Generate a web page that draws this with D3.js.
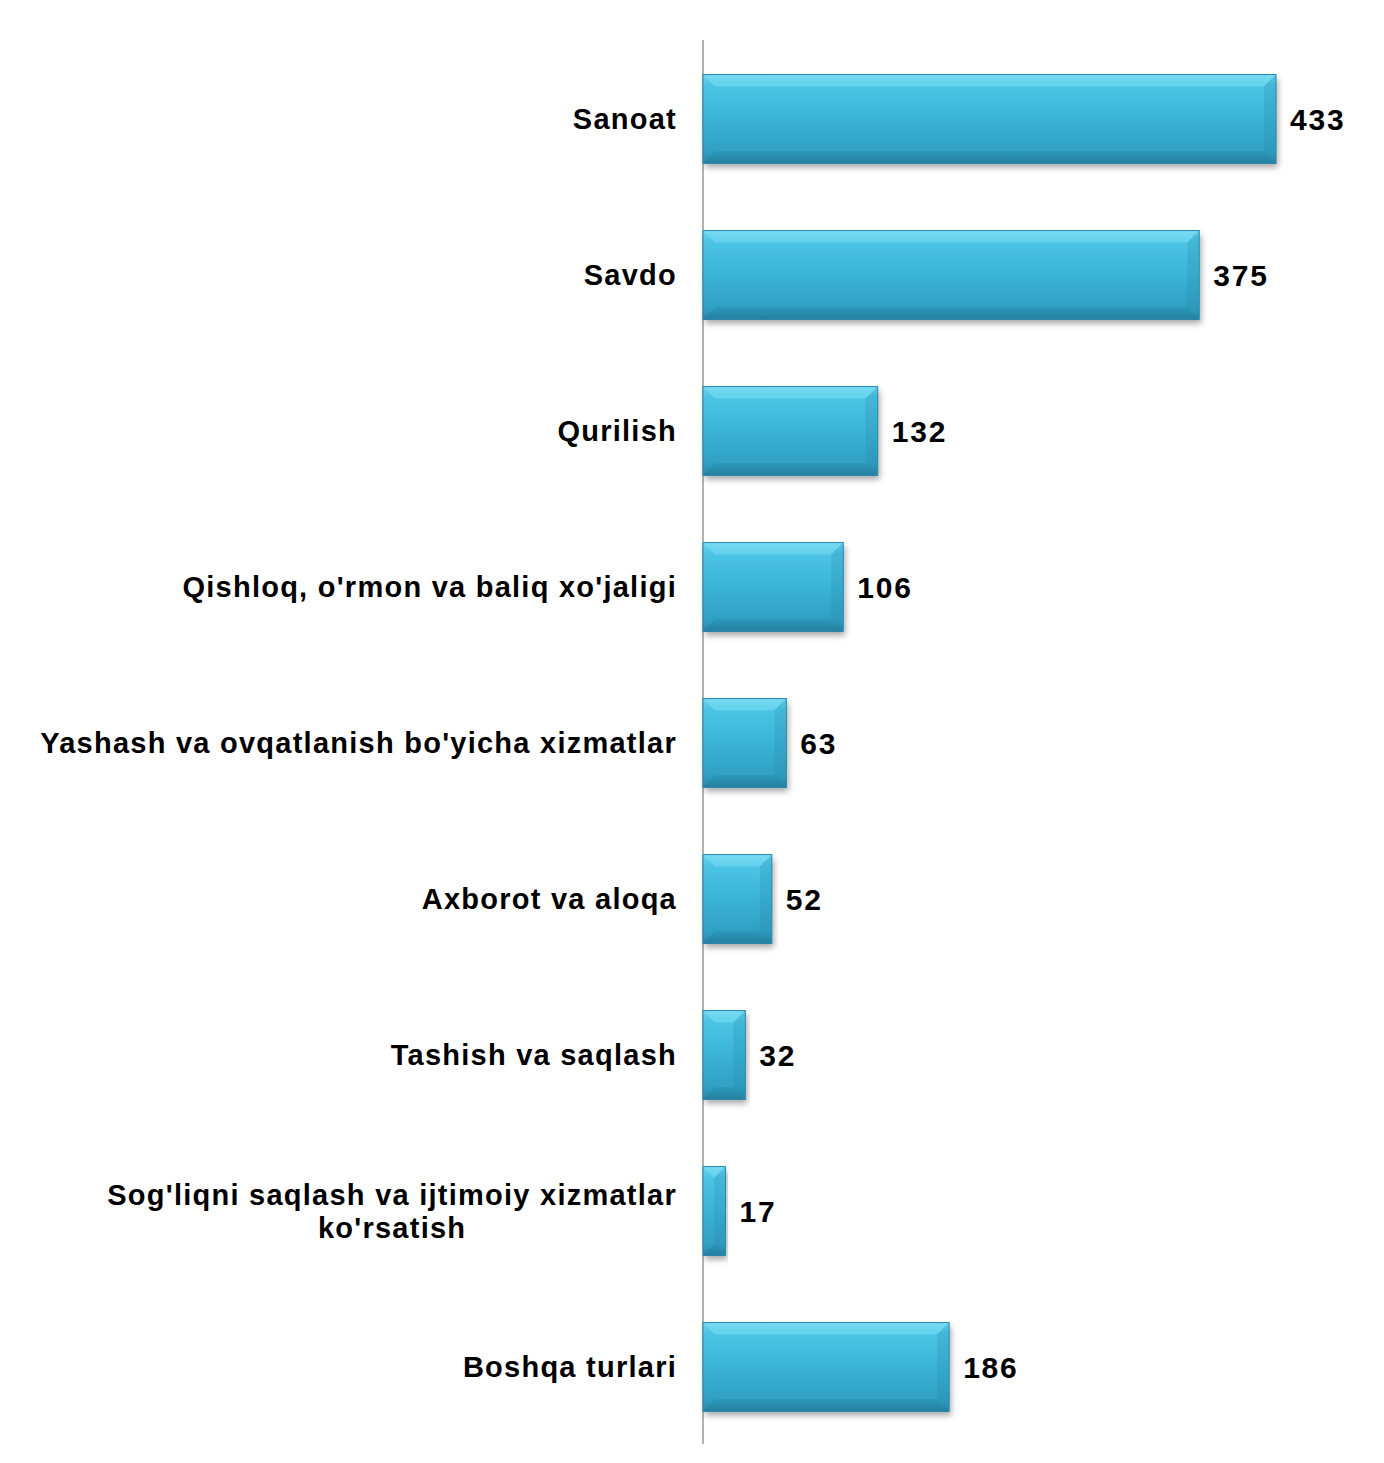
<!DOCTYPE html>
<html><head><meta charset="utf-8">
<script src="https://cdn.jsdelivr.net/npm/d3@7"></script>
<style>body{margin:0;background:#fff}svg{display:block}</style>
</head><body>
<script>
const categories = ["Sanoat","Savdo","Qurilish","Qishloq, o'rmon va baliq xo'jaligi","Yashash va ovqatlanish bo'yicha xizmatlar","Axborot va aloqa","Tashish va saqlash","Sog'liqni saqlash va ijtimoiy xizmatlar ko'rsatish","Boshqa turlari"];
const labelLines = [["Sanoat"],["Savdo"],["Qurilish"],["Qishloq, o'rmon va baliq xo'jaligi"],["Yashash va ovqatlanish bo'yicha xizmatlar"],["Axborot va aloqa"],["Tashish va saqlash"],["Sog'liqni saqlash va ijtimoiy xizmatlar","ko'rsatish"],["Boshqa turlari"]];
const values = [433,375,132,106,63,52,32,17,186];

const W=1384,H=1463;
const svg=d3.select("body").append("svg").attr("width",W).attr("height",H);
const defs=svg.append("defs");
const g1=defs.append("linearGradient").attr("id","bg").attr("x1",0).attr("y1",0).attr("x2",0).attr("y2",1);
[[0,"#6ad8f0"],[0.12,"#4cc4e4"],[0.5,"#3ab3d6"],[0.88,"#2f9fc2"],[1,"#2a86a6"]].forEach(s=>g1.append("stop").attr("offset",s[0]).attr("stop-color",s[1]));
const f=defs.append("filter").attr("id","sh").attr("x","-5%").attr("y","-10%").attr("width","115%").attr("height","130%");
f.append("feGaussianBlur").attr("in","SourceAlpha").attr("stdDeviation",3);
f.append("feOffset").attr("dx",2).attr("dy",4).attr("result","b");
f.append("feComponentTransfer").append("feFuncA").attr("type","linear").attr("slope",0.35);
const m=f.append("feMerge");m.append("feMergeNode");m.append("feMergeNode").attr("in","SourceGraphic");

const x0=703;
const x=d3.scaleLinear().domain([0,433]).range([x0,1276]);
const y=d3.scaleBand().domain(categories).range([41,1445]).paddingInner(0.43).paddingOuter(0.215);

svg.append("line").attr("x1",x0).attr("x2",x0).attr("y1",40).attr("y2",1444).attr("stroke","#888").attr("stroke-width",1.3);

const bars=svg.append("g").selectAll("g").data(categories).join("g");
bars.each(function(c,i){
  const gg=d3.select(this);
  const bx=x(0), bw=x(values[i])-x(0), by=y(c), bh=y.bandwidth();
  const bev=Math.min(12,bw/2);
  gg.append("rect").attr("x",bx).attr("y",by).attr("width",bw).attr("height",bh).attr("fill","url(#bg)").attr("filter","url(#sh)");
  gg.append("path").attr("d",`M${bx},${by}H${bx+bw}L${bx+bw-bev},${by+bev}H${bx+bev}Z`).attr("fill","#7fe0f5").attr("opacity",0.5);
  gg.append("path").attr("d",`M${bx+bw},${by}V${by+bh}L${bx+bw-bev},${by+bh-bev}V${by+bev}Z`).attr("fill","#1f7b9a").attr("opacity",0.18);
  gg.append("path").attr("d",`M${bx},${by+bh}H${bx+bw}L${bx+bw-bev},${by+bh-bev}H${bx+bev}Z`).attr("fill","#1b6f8c").attr("opacity",0.22);
  gg.append("rect").attr("x",bx).attr("y",by).attr("width",bw).attr("height",bh).attr("fill","none").attr("stroke","#2a88a8").attr("stroke-width",1);
});

const font="'Liberation Sans', Arial, sans-serif";
const lab=svg.append("g").attr("font-family",font).attr("font-weight","bold").attr("fill","#000");
categories.forEach((c,i)=>{
  const cy=y(c)+y.bandwidth()/2;
  const lines=labelLines[i];
  const lh=33;
  const n=lines.length;
  let firstW=0;
  lines.forEach((ln,k)=>{
    const yy=cy+(k-(n-1)/2)*lh;
    const t=lab.append("text").attr("font-size",29).attr("letter-spacing",1.25)
      .attr("y",yy).attr("dominant-baseline","central").text(ln);
    if(k===0){
      t.attr("x",677).attr("text-anchor","end");
      firstW=t.node().getComputedTextLength();
    } else {
      t.attr("x",677-firstW/2).attr("text-anchor","middle");
    }
  });
  lab.append("text").attr("font-size",30).attr("letter-spacing",1.8)
    .attr("x",x(values[i])+14).attr("y",cy).attr("dominant-baseline","central").text(values[i]);
});
</script>
</body></html>
